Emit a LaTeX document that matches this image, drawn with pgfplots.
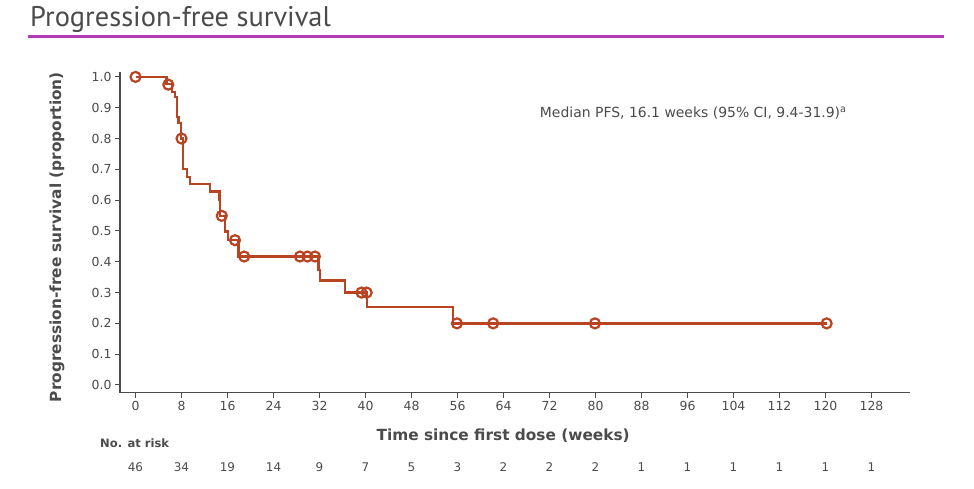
\documentclass[border=0pt]{standalone}
\usepackage{pgfplots}
\pgfplotsset{compat=1.18}
\usepackage{fontspec}
\setmainfont{DejaVu Sans}
\newfontfamily\titlefont{PT Sans}
\definecolor{km}{RGB}{185,68,34}
\definecolor{ttl}{RGB}{182,58,184}
\definecolor{txt}{RGB}{75,75,75}
\begin{document}
\begin{tikzpicture}[x=1bp,y=1bp]
\path[use as bounding box] (0,0) rectangle (974,489);
\node[anchor=base west, font=\titlefont\fontsize{28.5}{32}\selectfont, text=txt, inner sep=0] at (30,462) {Progression-free survival};
\draw[ttl, line width=3bp] (28,452) -- (944,452);
\begin{axis}[
  at={(120bp,96.3bp)}, anchor=south west,
  scale only axis, width=790bp, height=320.7bp,
  xmin=-2.7, xmax=134.7, ymin=-0.025, ymax=1.016,
  axis x line*=bottom, axis y line*=left,
  axis line style={txt, line width=1.3bp},
  every tick/.style={txt, line width=1bp},
  tick align=outside, major tick length=5bp,
  xtick={0,8,16,24,32,40,48,56,64,72,80,88,96,104,112,120,128},
  ytick={0,0.1,0.2,0.3,0.4,0.5,0.6,0.7,0.8,0.9,1.0},
  yticklabel style={/pgf/number format/.cd, fixed, fixed zerofill, precision=1},
  /pgf/number format/assume math mode=true,
  tick label style={font=\fontsize{12.5}{14}\selectfont, text=txt},
  xlabel={Time since first dose (weeks)},
  ylabel={Progression-free survival (proportion)},
  label style={font=\bfseries\fontsize{15.4}{18}\selectfont, text=txt},
  xlabel style={at={(axis description cs:0.485,-0.135)}, anchor=center},
  ylabel style={at={(axis description cs:-0.0797,0.485)}, anchor=center},
  clip=false,
]
\addplot[km, line width=2.3bp, const plot, mark=none] coordinates {
(0,1.0) (5.4,0.978) (6.3,0.952) (6.9,0.935) (7.2,0.87) (7.5,0.85) (7.9,0.80)
(8.3,0.70) (8.9,0.676) (9.5,0.652) (13.0,0.628) (14.6,0.60) (14.7,0.549)
(15.6,0.498) (16.1,0.47) (17.9,0.417) (31.8,0.373) (32.1,0.339) (36.4,0.30)
(40.3,0.254) (55.2,0.20) (120.2,0.20)
};
\addplot[km, line width=2.2bp, only marks, mark=o, mark size=5bp] coordinates {
(0,1.0) (5.7,0.975) (8.0,0.80) (15.0,0.549) (17.3,0.47) (18.9,0.417)
(28.6,0.417) (29.9,0.417) (31.2,0.417) (39.3,0.30) (40.2,0.30)
(55.9,0.20) (62.2,0.20) (79.9,0.20) (120.2,0.20)
};
\node[anchor=west, font=\fontsize{14}{16}\selectfont, text=txt, inner sep=0] at (axis cs:70.3,0.883) {Median PFS, 16.1 weeks (95\% CI, 9.4-31.9)\textsuperscript{a}};
\end{axis}
\node[anchor=west, font=\bfseries\fontsize{11.6}{14}\selectfont, text=txt, inner sep=0] at (100,46) {No. at risk};
\foreach \w/\n in {0/46,8/34,16/19,24/14,32/9,40/7,48/5,56/3,64/2,72/2,80/2,88/1,96/1,104/1,112/1,120/1,128/1}
  \node[font=\fontsize{12}{14}\selectfont, text=txt] at ({135.5+5.75*\w},22) {\n};
\end{tikzpicture}
\end{document}
